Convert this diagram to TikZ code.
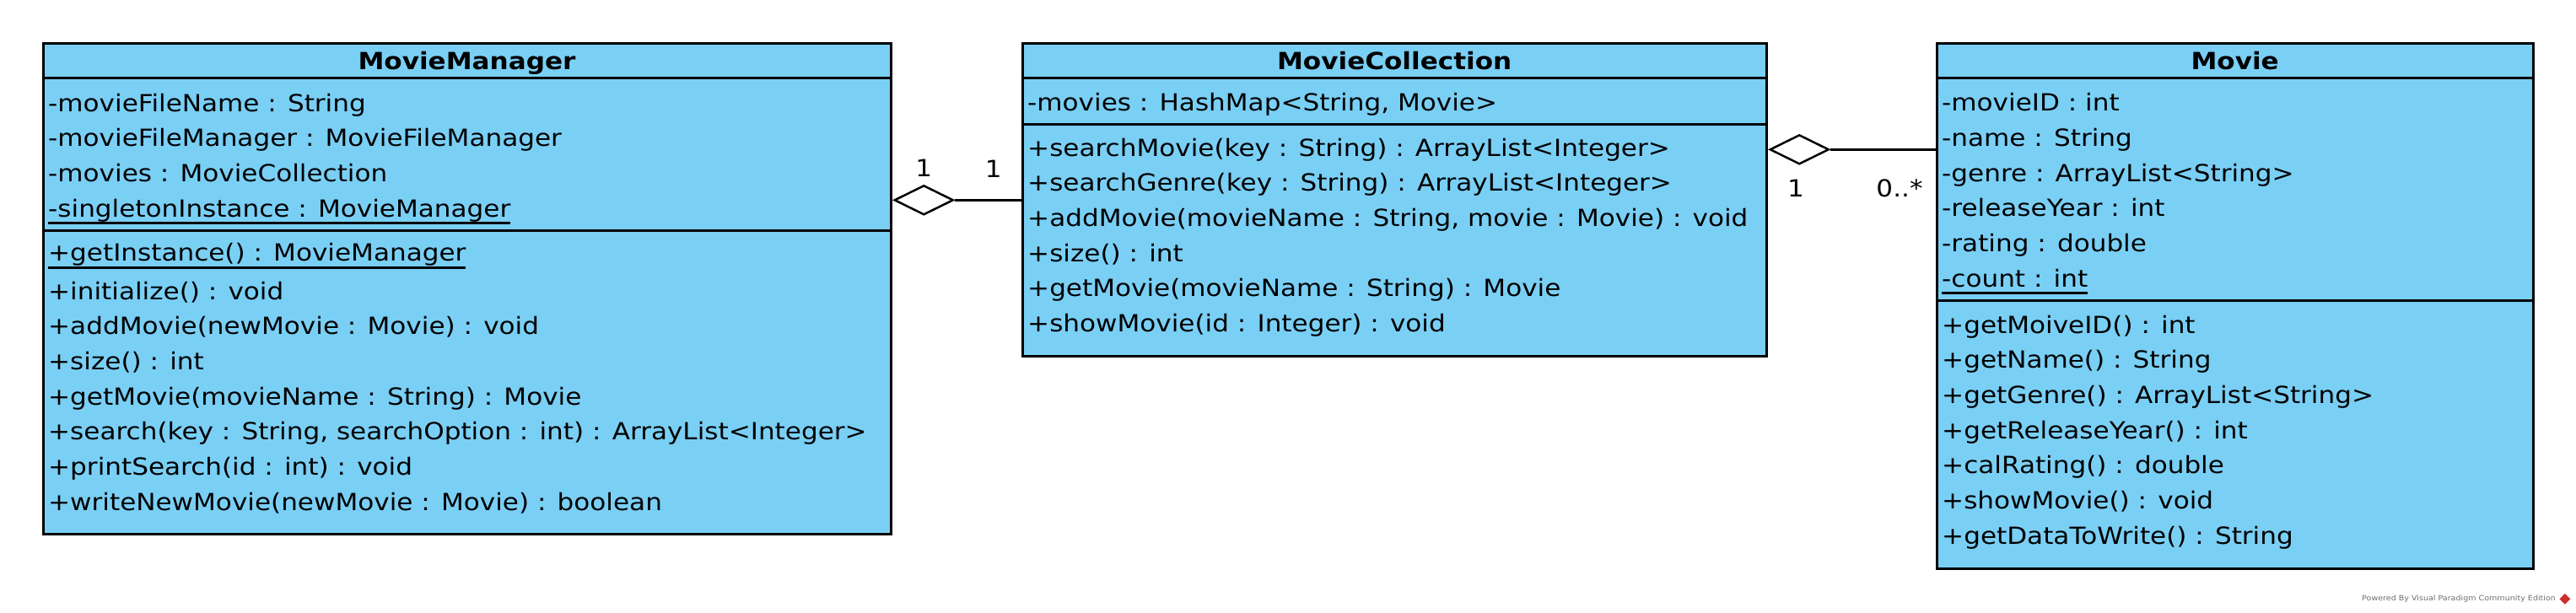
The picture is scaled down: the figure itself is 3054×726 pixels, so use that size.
\documentclass[tikz,border=0pt]{standalone}
\usepackage{fontspec}
\setmainfont{DejaVu Sans}[FakeStretch=1.11]
\usetikzlibrary{positioning,shapes.geometric}
\definecolor{classblue}{RGB}{122,207,245}
\definecolor{vpgray}{RGB}{110,110,110}
\definecolor{vpred}{RGB}{205,45,45}
\newcommand{\umlsize}{\fontsize{28}{34}\selectfont}
\newcommand{\stat}[1]{\setbox0=\hbox{#1}\rlap{\rule[-9pt]{\wd0}{3pt}}\box0}
\tikzset{
  part/.style={draw, line width=3pt, fill=classblue, inner sep=0pt, outer sep=0pt, anchor=north west},
  head/.style={anchor=base, inner sep=0pt, yshift=-10.2pt, font=\umlsize\bfseries},
  row/.style={anchor=base west, inner sep=0pt},
  aggr/.style={diamond, draw, fill=white, line width=2.5pt, inner sep=0pt, minimum width=70pt, minimum height=35pt, anchor=west},
  mult/.style={anchor=base, inner sep=0pt}
}
\begin{document}
\begin{tikzpicture}[x=1pt, y=-1pt, font=\umlsize]
\useasboundingbox (0,0) rectangle (3054,726);

\node[part, minimum width=1005pt, minimum height=41pt] (mm) at (51,51.7) {};
\node[part, minimum width=1005pt, minimum height=180.3pt] (mm-attr) at (mm.south west) {};
\node[part, minimum width=1005pt, minimum height=360pt] (mm-ops) at (mm-attr.south west) {};
\node[head] (mm-t) at (mm.center) {MovieManager};
\foreach \m [count=\i] in {-movieFileName : String, -movieFileManager : MovieFileManager, -movies : MovieCollection, \stat{-singletonInstance : MovieManager}}
  \node[row] (mm-a\i) at (57,{90.5+41.7*\i}) {\m};
\node[row] (mm-o0) at (57,309.5) {\stat{+getInstance() : MovieManager}};
\foreach \m [count=\i] in {+initialize() : void, +addMovie(newMovie : Movie) : void, +size() : int, +getMovie(movieName : String) : Movie, {+search(key : String, searchOption : int) : ArrayList<Integer>}, +printSearch(id : int) : void, +writeNewMovie(newMovie : Movie) : boolean}
  \node[row] (mm-o\i) at (57,{313.3+41.7*\i}) {\m};

\node[part, minimum width=882.3pt, minimum height=41pt] (mc) at (1212,51.7) {};
\node[part, minimum width=882.3pt, minimum height=55pt] (mc-attr) at (mc.south west) {};
\node[part, minimum width=882.3pt, minimum height=275pt] (mc-ops) at (mc-attr.south west) {};
\node[head] (mc-t) at (mc.center) {MovieCollection};
\node[row] (mc-a1) at (1218,131.7) {-movies : HashMap<String, Movie>};
\foreach \m [count=\i] in {+searchMovie(key : String) : ArrayList<Integer>, +searchGenre(key : String) : ArrayList<Integer>, {+addMovie(movieName : String, movie : Movie) : void}, +size() : int, +getMovie(movieName : String) : Movie, +showMovie(id : Integer) : void}
  \node[row] (mc-o\i) at (1218,{143.3+41.7*\i}) {\m};

\node[part, minimum width=707.3pt, minimum height=41pt] (mv) at (2296,51.7) {};
\node[part, minimum width=707.3pt, minimum height=264pt] (mv-attr) at (mv.south west) {};
\node[part, minimum width=707.3pt, minimum height=317.3pt] (mv-ops) at (mv-attr.south west) {};
\node[head] (mv-t) at (mv.center) {Movie};
\foreach \m [count=\i] in {-movieID : int, -name : String, -genre : ArrayList<String>, -releaseYear : int, -rating : double, \stat{-count : int}}
  \node[row] (mv-a\i) at (2302,{90+41.7*\i}) {\m};
\foreach \m [count=\i] in {+getMoiveID() : int, +getName() : String, +getGenre() : ArrayList<String>, +getReleaseYear() : int, +calRating() : double, +showMovie() : void, +getDataToWrite() : String}
  \node[row] (mv-o\i) at (2302,{353.3+41.7*\i}) {\m};

\node[aggr] (d1) at (1059,237.3) {};
\draw[line width=3pt] (d1.east) -- (d1.east -| mc-ops.west);
\node[mult, above=9pt of d1] (m1) {1};
\node[mult] (m2) at (1177.7,210) {1};

\node[aggr] (d2) at (2097,177.3) {};
\draw[line width=3pt] (d2.east) -- (d2.east -| mv-attr.west);
\node[mult] (m3) at (2129,233.3) {1};
\node[mult] (m4) at (2252,233.3) {0..*};

\node[anchor=base west, inner sep=0pt, text=vpgray, font=\fontsize{8.6}{10}\selectfont] (vp) at (2800,712.7) {Powered By Visual Paradigm Community Edition};
\node[diamond, fill=vpred, minimum size=13pt, inner sep=0pt, right=4pt of vp] (logo) {};
\end{tikzpicture}
\end{document}
